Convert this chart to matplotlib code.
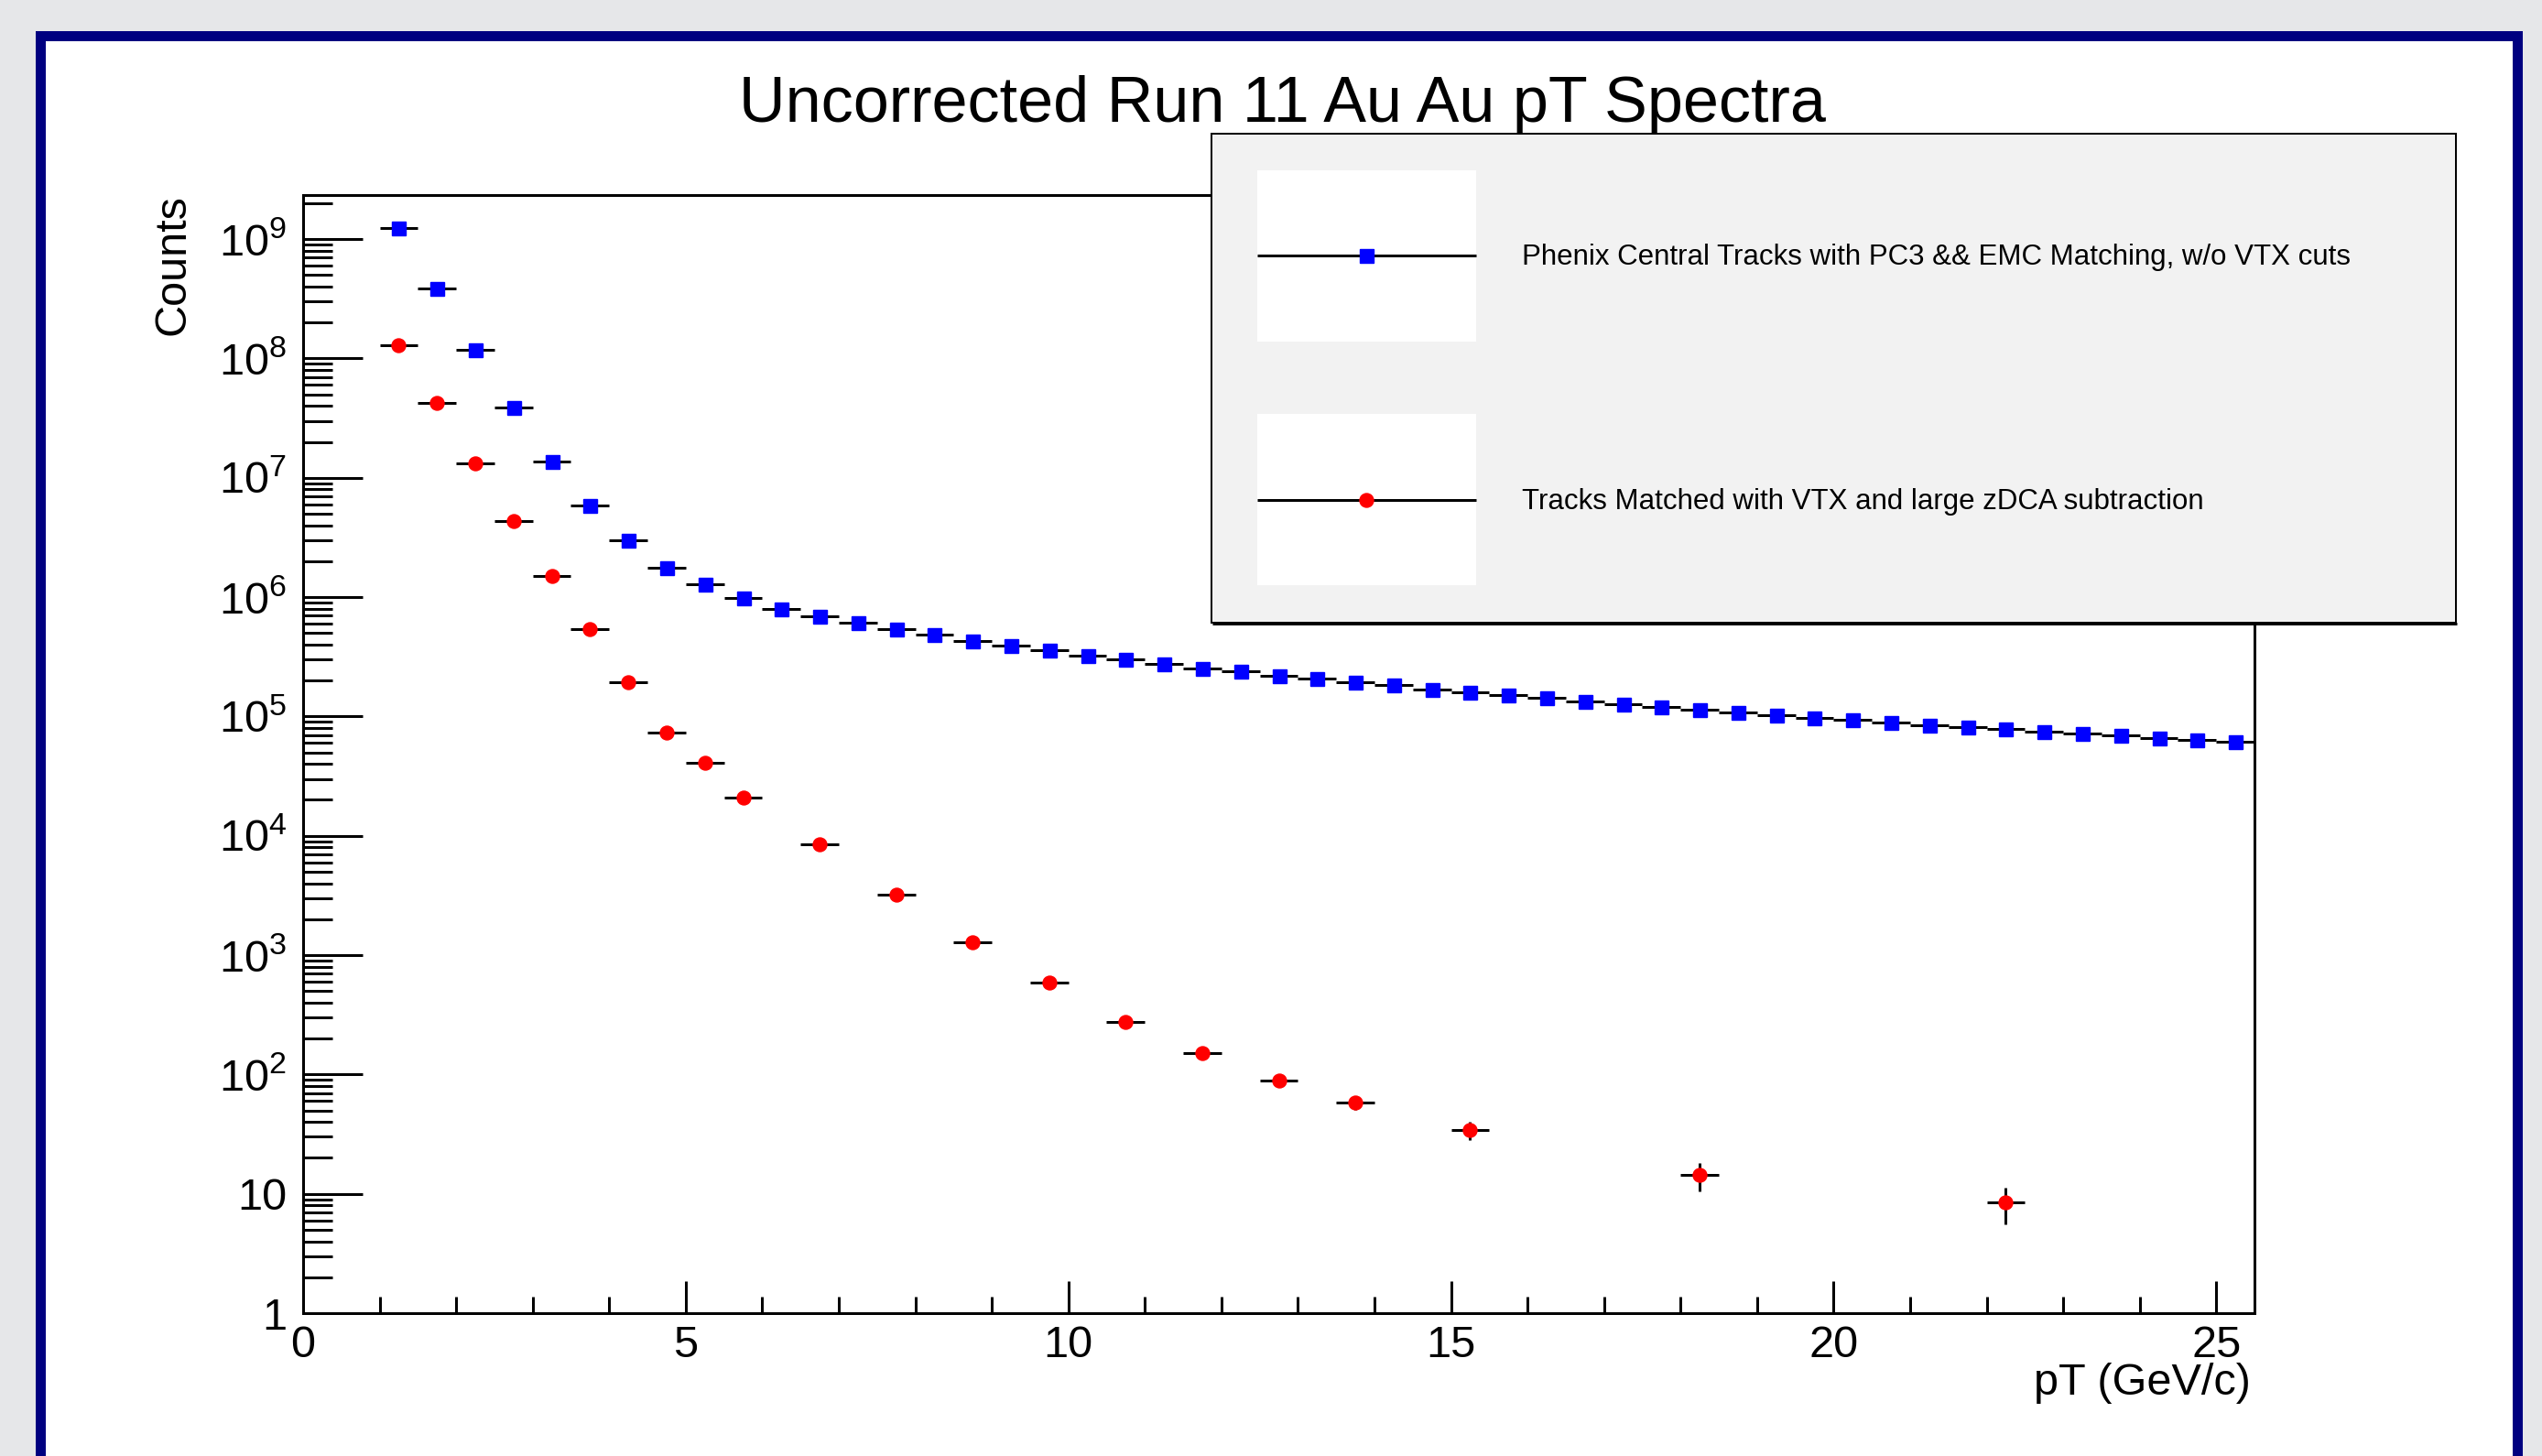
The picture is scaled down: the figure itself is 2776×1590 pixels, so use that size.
import numpy as np
import matplotlib
matplotlib.use("Agg")
import matplotlib.pyplot as plt
from matplotlib.patches import Rectangle
from matplotlib.ticker import LogLocator, MultipleLocator, NullFormatter

plt.rcParams["font.family"] = ["Liberation Sans", "DejaVu Sans"]
plt.rcParams["mathtext.fontset"] = "custom"
plt.rcParams["mathtext.rm"] = "Liberation Sans"
plt.rcParams["mathtext.it"] = "Liberation Sans:italic"
plt.rcParams["mathtext.bf"] = "Liberation Sans:bold"

W, H, DPI = 2776, 1590, 100

TITLE = "Uncorrected Run 11 Au Au pT Spectra"
XLABEL = "pT (GeV/c)"
YLABEL = "Counts"
LABEL_ALL = "Phenix Central Tracks with PC3 && EMC Matching, w/o VTX cuts"
LABEL_VTX = "Tracks Matched with VTX and large zDCA subtraction"

# bin centres (GeV/c), bin width 0.5
PT_ALL = [1.25, 1.75, 2.25, 2.75, 3.25, 3.75, 4.25, 4.75, 5.25, 5.75,
          6.25, 6.75, 7.25, 7.75, 8.25, 8.75, 9.25, 9.75, 10.25, 10.75,
          11.25, 11.75, 12.25, 12.75, 13.25, 13.75, 14.25, 14.75, 15.25, 15.75,
          16.25, 16.75, 17.25, 17.75, 18.25, 18.75, 19.25, 19.75, 20.25, 20.75,
          21.25, 21.75, 22.25, 22.75, 23.25, 23.75, 24.25, 24.75, 25.25]
COUNTS_ALL = [1.24e9, 3.85e8, 1.18e8, 3.85e7, 1.38e7, 5.9e6, 2.98e6, 1.76e6, 1.29e6, 9.8e5,
              8.0e5, 6.9e5, 6.08e5, 5.37e5, 4.86e5, 4.3e5, 3.93e5, 3.62e5, 3.26e5, 3.02e5,
              2.76e5, 2.54e5, 2.41e5, 2.21e5, 2.08e5, 1.95e5, 1.83e5, 1.68e5, 1.58e5, 1.51e5,
              1.43e5, 1.34e5, 1.26e5, 1.21e5, 1.14e5, 1.09e5, 1.03e5, 9.8e4, 9.4e4, 8.87e4,
              8.5e4, 8.16e4, 7.84e4, 7.52e4, 7.22e4, 6.92e4, 6.64e4, 6.41e4, 6.15e4]

PT_VTX = [1.25, 1.75, 2.25, 2.75, 3.25, 3.75, 4.25, 4.75, 5.25, 5.75,
          6.75, 7.75, 8.75, 9.75, 10.75, 11.75, 12.75, 13.75, 15.25, 18.25, 22.25]
COUNTS_VTX = [1.29e8, 4.23e7, 1.32e7, 4.33e6, 1.49e6, 5.37e5, 1.95e5, 7.34e4, 4.12e4, 2.08e4,
              8.5e3, 3.21e3, 1.29e3, 587, 277, 152, 89, 58.5, 34.3, 14.3, 8.44]

XTICKS = [0, 5, 10, 15, 20, 25]
YTICKS = [1, 10, 1e2, 1e3, 1e4, 1e5, 1e6, 1e7, 1e8, 1e9]
YTICK_LABELS = ["1", "10", r"$\mathregular{10^{2}}$", r"$\mathregular{10^{3}}$",
                r"$\mathregular{10^{4}}$", r"$\mathregular{10^{5}}$", r"$\mathregular{10^{6}}$",
                r"$\mathregular{10^{7}}$", r"$\mathregular{10^{8}}$", r"$\mathregular{10^{9}}$"]

BIN_HALF = 0.25
PX = 72.0 / DPI   # points per pixel

fig = plt.figure(figsize=(W / DPI, H / DPI), dpi=DPI, facecolor="#e6e7e9")

# canvas frame (navy border, white pad) -- behind everything
fig.patches.append(Rectangle((39 / W, 0), (2755 - 39) / W, 1 - 34 / H,
                             transform=fig.transFigure, fc="#000080", ec="none", zorder=-3))
fig.patches.append(Rectangle((50 / W, 0), (2744 - 50) / W, 1 - 45 / H,
                             transform=fig.transFigure, fc="white", ec="none", zorder=-2))

ax = fig.add_axes([331 / W, 1 - 1434 / H, (2462 - 331) / W, (1434 - 212.5) / H])

ax.errorbar(PT_ALL, COUNTS_ALL, xerr=BIN_HALF, yerr=np.sqrt(COUNTS_ALL), fmt="s",
            color="blue", mec="blue", ms=15 * PX, ecolor="black", elinewidth=3 * PX,
            capsize=0, zorder=3, clip_on=False)
ax.errorbar(PT_VTX, COUNTS_VTX, xerr=BIN_HALF, yerr=np.sqrt(COUNTS_VTX), fmt="o",
            color="red", mec="red", ms=15 * PX, ecolor="black", elinewidth=3 * PX,
            capsize=0, zorder=3, clip_on=False)

ax.set_yscale("log")
ax.set_xlim(0, 25.5)
ax.set_ylim(1, 2.36e9)
ax.set_xticks(XTICKS)
ax.set_xticklabels([str(t) for t in XTICKS])
ax.xaxis.set_minor_locator(MultipleLocator(1))
ax.set_yticks(YTICKS)
ax.set_yticklabels(YTICK_LABELS)
ax.yaxis.set_minor_locator(LogLocator(base=10, subs=np.arange(2, 10), numticks=40))
ax.yaxis.set_minor_formatter(NullFormatter())

for sp in ax.spines.values():
    sp.set_linewidth(3 * PX)
ax.tick_params(which="both", direction="in", top=False, right=False, width=3 * PX)
ax.tick_params(axis="y", which="major", length=65 * PX, labelsize=35, pad=13)
ax.tick_params(axis="y", which="minor", length=32 * PX)
ax.tick_params(axis="x", which="major", length=35 * PX, labelsize=35, pad=9)
ax.tick_params(axis="x", which="minor", length=18 * PX)

ax.set_ylabel(YLABEL, fontsize=35, loc="top")
ax.yaxis.set_label_coords(-0.0563, 1.0)
ax.set_xlabel(XLABEL, fontsize=35, loc="right")
ax.xaxis.set_label_coords(0.998, -0.044)

fig.text(1400 / W, 1 - 133 / H, TITLE, fontsize=50.5, ha="center", va="baseline")

# legend box, drawn in pixel coordinates on an overlay
ov = fig.add_axes([0, 0, 1, 1], zorder=5)
ov.set_xlim(0, W)
ov.set_ylim(H, 0)
ov.axis("off")
ov.patch.set_alpha(0)

ov.add_patch(Rectangle((1323, 146), 1359, 534, fc="#f2f2f2", ec="black", lw=2 * PX))
ov.plot([1324, 2683], [681, 681], color="black", lw=3 * PX, solid_capstyle="butt")

entries = [(LABEL_ALL, "s", "blue", 186, 279, 289),
           (LABEL_VTX, "o", "red", 452, 546, 556)]
for label, mk, col, box_top, line_y, base_y in entries:
    ov.add_patch(Rectangle((1373, box_top), 239, 187, fc="white", ec="none"))
    ov.plot([1373, 1612], [line_y, line_y], color="black", lw=3 * PX, solid_capstyle="butt")
    ov.plot([1492], [line_y], marker=mk, color=col, mec=col, ms=15 * PX, ls="none")
    ov.text(1662, base_y, label, fontsize=22.5, ha="left", va="baseline")

fig.savefig("out.png", dpi=DPI, facecolor=fig.get_facecolor())
